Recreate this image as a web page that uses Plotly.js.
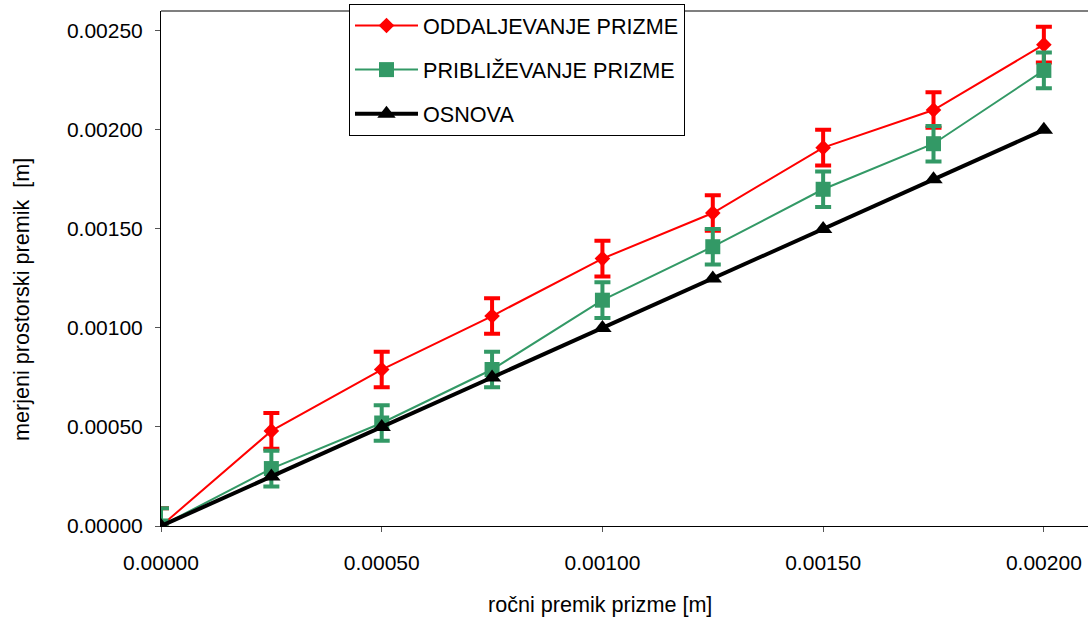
<!DOCTYPE html>
<html>
<head>
<meta charset="utf-8">
<script src="https://cdn.plot.ly/plotly-3.0.1.min.js"></script>
<style>html,body{margin:0;padding:0;background:#fff;}#chart{width:1088px;height:620px;}</style>
</head>
<body>
<div id="chart"></div>
<script>
const xValues = [0, 0.00025, 0.0005, 0.00075, 0.001, 0.00125, 0.0015, 0.00175, 0.002];
const oddaljevanje = [0, 0.00048, 0.00079, 0.00106, 0.00135, 0.00158, 0.00191, 0.00210, 0.00243];
const priblizevanje = [0, 0.00029, 0.00052, 0.00079, 0.00114, 0.00141, 0.00170, 0.00193, 0.00230];
const osnova = [0, 0.00025, 0.0005, 0.00075, 0.001, 0.00125, 0.0015, 0.00175, 0.002];
const errOddaljevanje = [0.00009, 0.00009, 0.00009, 0.00009, 0.00009, 0.00009, 0.00009, 0.00009, 0.00009];
const errPriblizevanje = [0.00009, 0.00009, 0.00009, 0.00009, 0.00009, 0.00009, 0.00009, 0.00009, 0.00009];
const seriesNames = ['ODDALJEVANJE PRIZME', 'PRIBLIŽEVANJE PRIZME', 'OSNOVA'];
const xTitle = 'ročni premik prizme [m]';
const yTitle = 'merjeni prostorski premik  [m]';

const font = 'Liberation Sans, Arial, sans-serif';

const traces = [
  {
    x: xValues, y: oddaljevanje, name: seriesNames[0], legendgroup: 'a',
    type: 'scatter', mode: 'lines+markers',
    line: {color: '#FF0000', width: 2},
    marker: {symbol: 'diamond', size: 12, color: '#FF0000'},
    error_y: {type: 'data', array: errOddaljevanje, visible: true, color: '#FF0000', thickness: 4, width: 8}
  },
  {
    x: xValues, y: priblizevanje, name: seriesNames[1], legendgroup: 'b',
    type: 'scatter', mode: 'lines+markers',
    line: {color: '#339966', width: 2},
    marker: {symbol: 'square', size: 15, color: '#339966'},
    error_y: {type: 'data', array: errPriblizevanje, visible: true, color: '#339966', thickness: 4, width: 8}
  },
  {
    x: xValues, y: osnova, name: seriesNames[2], legendgroup: 'c',
    type: 'scatter', mode: 'lines+markers',
    line: {color: '#000000', width: 4},
    marker: {symbol: 'triangle-up', size: 16, color: '#000000'}
  }
];

const layout = {
  width: 1088, height: 620,
  margin: {l: 161, r: 0, t: 11, b: 94},
  paper_bgcolor: '#ffffff', plot_bgcolor: '#ffffff',
  font: {family: font, size: 21, color: '#000000'},
  showlegend: true,
  legend: {
    x: 0.2028, y: 1.0136, xanchor: 'left', yanchor: 'top',
    bordercolor: '#000000', borderwidth: 1, bgcolor: '#ffffff',
    font: {family: font, size: 21.6, color: '#000000'},
    itemwidth: 63,
    tracegroupgap: 13
  },
  xaxis: {
    range: [0, 0.0021], tickvals: [0, 0.0005, 0.001, 0.0015, 0.002], tickformat: '.5f',
    showgrid: false, zeroline: false, showline: true, linecolor: '#000000', linewidth: 1,
    ticks: 'outside', ticklen: 5, tickcolor: '#555555', tickwidth: 1,
    ticklabelstandoff: 13,
    tickfont: {family: font, size: 21, color: '#000000'}
  },
  yaxis: {
    range: [0, 0.0026], tickvals: [0, 0.0005, 0.001, 0.0015, 0.002, 0.0025], tickformat: '.5f',
    showgrid: false, zeroline: false, showline: true, linecolor: '#000000', linewidth: 1,
    ticks: 'outside', ticklen: 5, tickcolor: '#555555', tickwidth: 1,
    ticklabelstandoff: 8,
    tickfont: {family: font, size: 21, color: '#000000'}
  },
  annotations: [
    {text: xTitle, xref: 'paper', yref: 'paper', x: 0.4736, y: -0.1515, xanchor: 'center', yanchor: 'middle',
     showarrow: false, font: {family: font, size: 21.6, color: '#000000'}},
    {text: yTitle, xref: 'paper', yref: 'paper', x: -0.15, y: 0.4408, xanchor: 'center', yanchor: 'middle',
     textangle: -90, showarrow: false, font: {family: font, size: 21.6, color: '#000000'}}
  ],
  shapes: [
    {type: 'line', xref: 'paper', yref: 'paper', x0: 0, x1: 1, y0: 1, y1: 1, line: {color: '#555555', width: 1.5}}
  ]
};

Plotly.newPlot('chart', traces, layout, {displayModeBar: false, staticPlot: true});
</script>
</body>
</html>
